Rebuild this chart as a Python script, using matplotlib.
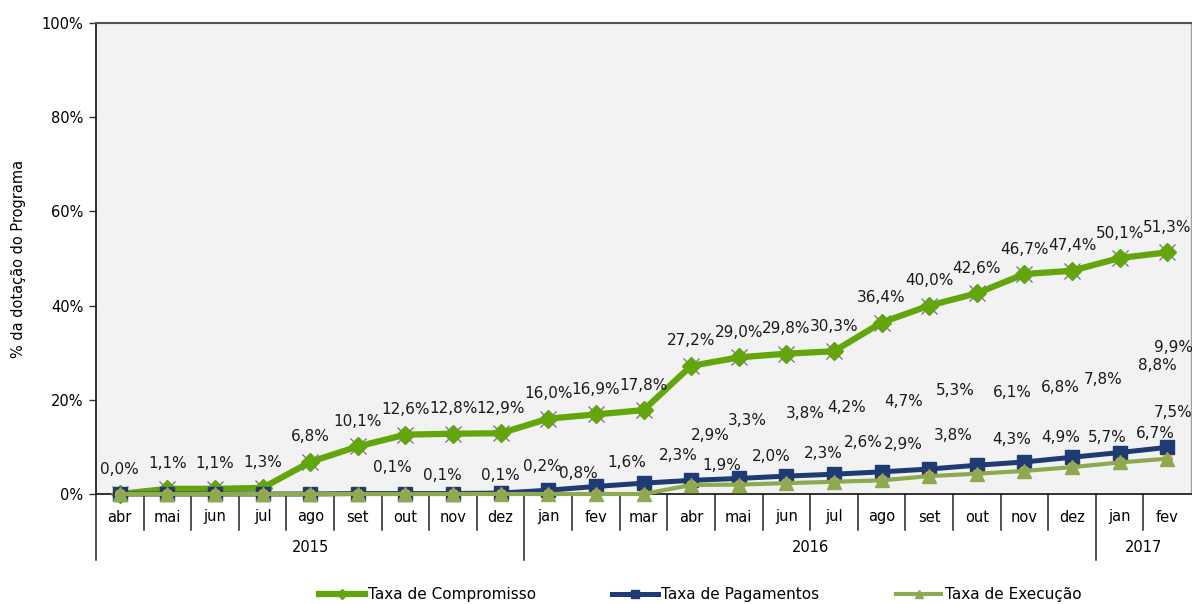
import matplotlib
matplotlib.use("Agg")
import matplotlib.pyplot as plt
import matplotlib.transforms as mtransforms
import numpy as np

# ---------------- data ----------------
months = ["abr", "mai", "jun", "jul", "ago", "set", "out", "nov", "dez",
          "jan", "fev", "mar", "abr", "mai", "jun", "jul", "ago", "set", "out", "nov", "dez",
          "jan", "fev"]
years = ["2015", "2016", "2017"]
year_spans = [(0, 8), (9, 20), (21, 22)]

compromisso = [0.0, 1.1, 1.1, 1.3, 6.8, 10.1, 12.6, 12.8, 12.9,
               16.0, 16.9, 17.8, 27.2, 29.0, 29.8, 30.3, 36.4, 40.0, 42.6, 46.7, 47.4,
               50.1, 51.3]
pagamentos = [0.0, 0.0, 0.0, 0.0, 0.0, 0.1, 0.1, 0.1, 0.2,
              0.8, 1.6, 2.3, 2.9, 3.3, 3.8, 4.2, 4.7, 5.3, 6.1, 6.8, 7.8,
              8.8, 9.9]
execucao = [0.0, 0.0, 0.0, 0.0, 0.0, 0.0, 0.0, 0.0, 0.0,
            0.0, 0.0, 0.0, 1.9, 2.0, 2.3, 2.6, 2.9, 3.8, 4.3, 4.9, 5.7,
            6.7, 7.5]

# label offsets in pixels (style/position only)
pag_first_label = 5
pag_offsets = [(35, 26), (37, 18), (47, 18), (42, 27), (30, 17), (31, 24), (35, 28),
               (19, 45), (9, 58), (19, 63), (13, 67), (22, 70), (26, 79), (36, 73),
               (36, 74), (31, 78), (38, 87), (6, 100)]
exe_first_label = 12
exe_offsets = [(31, 20), (33, 28), (37, 30), (29, 39), (22, 36), (24, 41), (35, 34),
               (36, 33), (35, 30), (36, 29), (6, 46)]

c_comp = "#62A60C"
c_pag = "#1F3B73"
c_exe = "#8DAA50"

def fmt(v):
    return f"{v:.1f}".replace(".", ",") + "%"

# ---------------- figure ----------------
W, H = 1192, 604
fig = plt.figure(figsize=(W / 100, H / 100), dpi=100)
ax_l, ax_r, ax_t, ax_b = 96, 1191, 23, 494
ax = fig.add_axes([ax_l / W, 1 - ax_b / H, (ax_r - ax_l) / W, (ax_b - ax_t) / H])
ax.set_facecolor("#F2F2F2")

x = np.arange(len(months))

# hidden helper series markers (as seen in reference)
ax.plot(x, compromisso, linestyle="none", marker="x", ms=11, mew=0.9,
        color="#7E5FA8", zorder=2)
ax.plot(x, compromisso, color=c_comp, lw=4.5, marker="D", ms=9,
        label="Taxa de Compromisso", zorder=3, clip_on=False)
ax.plot(x, pagamentos, color=c_pag, lw=3.6, marker="s", ms=10,
        label="Taxa de Pagamentos", zorder=4, clip_on=False)
ax.plot(x, execucao, linestyle="none", marker="o", ms=7, color="#F79646",
        zorder=4.5, clip_on=False)
ax.plot(x, execucao, color=c_exe, lw=3.0, marker="^", ms=10,
        label="Taxa de Execução", zorder=5, clip_on=False)

lab_kw = dict(textcoords="offset pixels", ha="center", va="center",
              fontsize=11, color="#1a1a1a", zorder=6,
              family=["DejaVu Sans"])
for i, v in enumerate(compromisso):
    ax.annotate(fmt(v), (x[i], v), xytext=(0, 25), **lab_kw)
for k, (dx, dy) in enumerate(pag_offsets):
    i = pag_first_label + k
    ax.annotate(fmt(pagamentos[i]), (x[i], pagamentos[i]), xytext=(dx, dy), **lab_kw)
for k, (dx, dy) in enumerate(exe_offsets):
    i = exe_first_label + k
    ax.annotate(fmt(execucao[i]), (x[i], execucao[i]), xytext=(dx, dy), **lab_kw)

ax.set_xlim(-0.5, len(months) - 0.5)
ax.set_ylim(0, 100)
ax.set_yticks(np.arange(0, 101, 20))
ax.set_yticklabels([f"{t}%" for t in range(0, 101, 20)], fontsize=10.5,
                   family="DejaVu Sans")
ax.tick_params(axis="y", length=5, width=1, color="#333333", pad=4)
ax.set_xticks([])

for s in ["left", "bottom"]:
    ax.spines[s].set_color("#222222")
    ax.spines[s].set_linewidth(1.3)
ax.spines["top"].set_color("#555555")
ax.spines["top"].set_linewidth(1.5)
ax.spines["right"].set_color("#A0A0A0")
ax.spines["right"].set_linewidth(1.0)

ax.set_ylabel("% da dotação do Programa", fontsize=10.5)
ax.yaxis.set_label_coords(-0.064, 0.5)

# two-level category axis
trans = mtransforms.blended_transform_factory(ax.transData, ax.transAxes)
ah = ax_b - ax_t
y_month = -36 / ah
y_year = -66 / ah
year_bounds = [s - 0.5 for s, _ in year_spans]
for b in np.arange(-0.5, len(months) - 0.5, 1.0):
    yb = y_year if b in year_bounds else y_month
    ax.plot([b, b], [0, yb], transform=trans, color="#222222", lw=1.1,
            clip_on=False, zorder=1)
for i, m in enumerate(months):
    ax.text(x[i], -23 / ah, m, transform=trans, ha="center", va="center",
            fontsize=10.5)
for (s, e), yname in zip(year_spans, years):
    ax.text((s + e) / 2, -54 / ah, yname, transform=trans, ha="center",
            va="center", fontsize=10.5)

leg = fig.legend(loc="center", bbox_to_anchor=(700 / W, 1 - 595 / H), ncol=3,
                 frameon=False, fontsize=11, handlelength=3.0,
                 columnspacing=5.0, handletextpad=0.2, markerscale=0.55)

fig.savefig("out.png", dpi=100)
